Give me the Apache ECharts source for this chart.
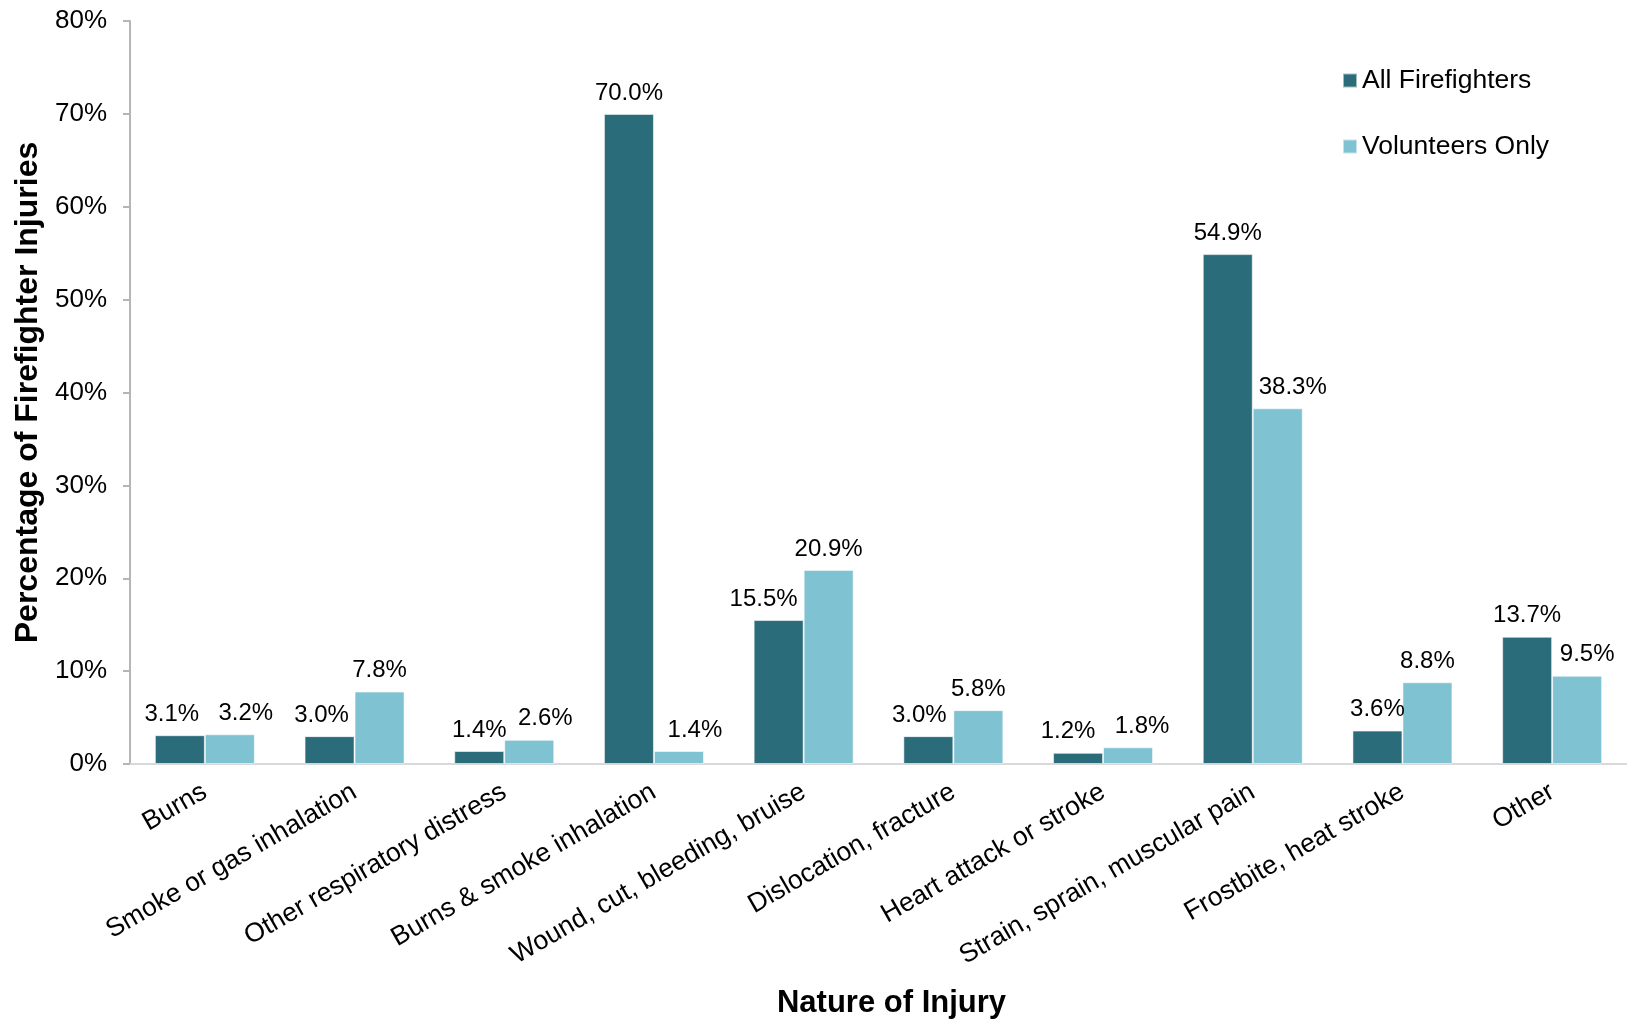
<!DOCTYPE html>
<html>
<head>
<meta charset="utf-8">
<title>Nature of Injury</title>
<script src="https://cdn.jsdelivr.net/npm/echarts@6/dist/echarts.min.js"></script>
<style>
  html, body { margin: 0; padding: 0; background: #fff; }
  #chart { width: 1627px; height: 1024px; }
</style>
</head>
<body>
<div id="chart"></div>
<script>
// categories (x axis)
const injuryTypes = [
  'Burns',
  'Smoke or gas inhalation',
  'Other respiratory distress',
  'Burns & smoke inhalation',
  'Wound, cut, bleeding, bruise',
  'Dislocation, fracture',
  'Heart attack or stroke',
  'Strain, sprain, muscular pain',
  'Frostbite, heat stroke',
  'Other'
];
// percent of injuries
const allFirefighters = [3.1, 3.0, 1.4, 70.0, 15.5, 3.0, 1.2, 54.9, 3.6, 13.7];
const volunteersOnly = [3.2, 7.8, 2.6, 1.4, 20.9, 5.8, 1.8, 38.3, 8.8, 9.5];
const yTicks = [0, 10, 20, 30, 40, 50, 60, 70, 80];

// label nudges (px) so labels sit like the Excel original
const nudgeAll = [-8, -8, 0, 0, -15, -9, -10, 0, 0, 0];
const nudgeVol = [16, 0, 16, 16, 0, 0, 14, 15, 0, 10];

const FONT = '"Liberation Sans", Arial, sans-serif';
const darkTeal = '#2b6c7b';
const lightTeal = '#7fc2d2';

var chartDom = document.getElementById('chart');
var myChart = echarts.init(chartDom, null, {renderer: 'canvas'});

function makeSeries(name, values, color, nudges) {
  return {
    name: name,
    type: 'bar',
    barWidth: 50,
    barGap: 0,
    itemStyle: {
      color: color,
      borderColor: 'rgba(255,255,255,0.55)',
      borderWidth: 1
    },
    label: {
      show: true,
      position: 'top',
      distance: 9,
      color: '#000',
      fontFamily: FONT,
      fontSize: 24,
      formatter: p => p.value.toFixed(1) + '%'
    },
    data: values.map((v, i) => ({
      value: v,
      label: {offset: [nudges[i], 0]}
    }))
  };
}

var option = {
  animation: false,
  backgroundColor: '#fff',
  textStyle: {fontFamily: FONT},
  legend: {
    orient: 'vertical',
    left: 1337,
    top: 62,
    itemWidth: 14,
    itemHeight: 14,
    itemGap: 39,
    icon: 'rect',
    textStyle: {
      fontFamily: FONT,
      fontSize: 26.5,
      color: '#000',
      lineHeight: 27,
      padding: [0, 0, 0, 0]
    },
    data: ['All Firefighters', 'Volunteers Only']
  },
  grid: {
    left: 130,
    right: 0,
    top: 21,
    bottom: 257,
    containLabel: false
  },
  xAxis: {
    type: 'category',
    data: injuryTypes,
    name: 'Nature of Injury',
    nameLocation: 'middle',
    nameGap: 224,
    nameTextStyle: {
      fontFamily: FONT,
      fontSize: 31,
      fontWeight: 'bold',
      color: '#000',
      padding: [0, 0, 0, 26]
    },
    axisLine: {lineStyle: {color: '#d9d9d9', width: 2}},
    axisTick: {show: false},
    axisLabel: {
      interval: 0,
      rotate: 30,
      margin: 26,
      color: '#000',
      fontFamily: FONT,
      fontSize: 26.5
    }
  },
  yAxis: {
    type: 'value',
    min: yTicks[0],
    max: yTicks[yTicks.length - 1],
    interval: yTicks[1] - yTicks[0],
    name: 'Percentage of Firefighter Injuries',
    nameLocation: 'middle',
    nameGap: 83,
    nameTextStyle: {
      fontFamily: FONT,
      fontSize: 32,
      fontWeight: 'bold',
      color: '#000'
    },
    axisLine: {show: true, lineStyle: {color: '#b5b5b5', width: 2}},
    axisTick: {show: true, length: 7, lineStyle: {color: '#b5b5b5', width: 2}},
    splitLine: {show: false},
    axisLabel: {
      margin: 23,
      color: '#000',
      fontFamily: FONT,
      fontSize: 26,
      formatter: '{value}%'
    }
  },
  series: [
    makeSeries('All Firefighters', allFirefighters, darkTeal, nudgeAll),
    makeSeries('Volunteers Only', volunteersOnly, lightTeal, nudgeVol)
  ]
};

option && myChart.setOption(option);
</script>
</body>
</html>
